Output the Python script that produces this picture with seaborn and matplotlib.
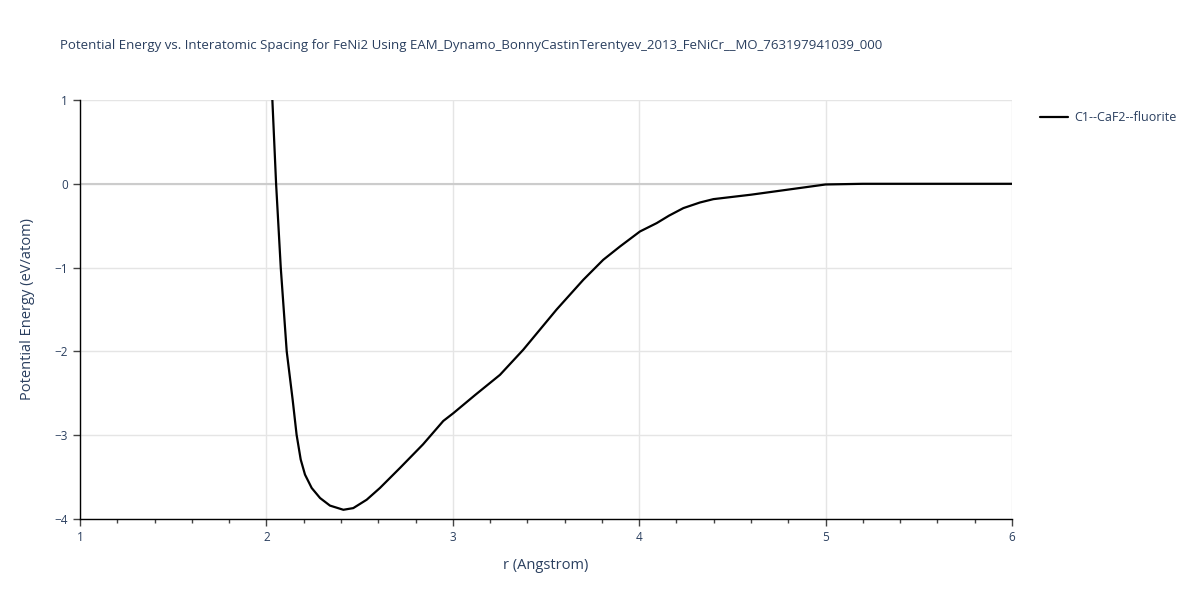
import matplotlib.pyplot as plt
import seaborn as sns
import pandas as pd
from matplotlib.ticker import MultipleLocator

# Values
r_values = [1.99, 2.032, 2.052, 2.077, 2.109, 2.141, 2.162, 2.184, 2.207, 2.243,
            2.288, 2.341, 2.413, 2.466, 2.538, 2.609, 2.717, 2.84, 2.949, 3.003,
            3.12, 3.253, 3.378, 3.557, 3.70, 3.807, 3.897, 4.004, 4.094, 4.16,
            4.237, 4.326, 4.398, 4.6, 4.79, 5.0, 5.2, 5.5, 6.0]
energy_values = [2.0, 1.0, 0.0, -1.0, -2.0, -2.58, -2.995, -3.29, -3.47, -3.63,
                 -3.75, -3.84, -3.89, -3.87, -3.77, -3.63, -3.39, -3.11, -2.83, -2.737,
                 -2.52, -2.28, -1.98, -1.50, -1.146, -0.907, -0.748, -0.569, -0.469, -0.38,
                 -0.29, -0.223, -0.183, -0.13, -0.072, -0.008, 0.0, 0.0, 0.0]
series_name = "C1--CaF2--fluorite"
title = ("Potential Energy vs. Interatomic Spacing for FeNi2 Using "
         "EAM_Dynamo_BonnyCastinTerentyev_2013_FeNiCr__MO_763197941039_000")

df = pd.DataFrame({"r": r_values, "E": energy_values, "Structure": series_name})

sns.set_style("white")
plt.rcParams['font.family'] = ['Open Sans', 'DejaVu Sans']
text_color = "#2a3f5f"

fig = plt.figure(figsize=(12, 6), dpi=100)
ax = fig.add_axes([80 / 1200, 1 - 519 / 600, 932 / 1200, 419 / 600])

sns.lineplot(data=df, x="r", y="E", hue="Structure", palette=["black"],
             linewidth=1.6, ax=ax, sort=False)

ax.set_xlim(1, 6)
ax.set_ylim(-4, 1)

# gridlines like the plotly look
ax.xaxis.set_major_locator(MultipleLocator(1))
ax.xaxis.set_minor_locator(MultipleLocator(0.2))
ax.yaxis.set_major_locator(MultipleLocator(1))
ax.grid(True, which="major", color="#e5e5e5", linewidth=1)
ax.axhline(0, color="#cccccc", linewidth=1.5, zorder=1)
ax.set_axisbelow(True)

for side in ["top", "right"]:
    ax.spines[side].set_visible(False)
ax.spines["left"].set_color("black")
ax.spines["bottom"].set_color("black")
ax.spines["left"].set_linewidth(1)
ax.spines["bottom"].set_linewidth(1)

ax.tick_params(axis="both", which="major", direction="out", length=5, width=1,
               bottom=True, left=True, color="#444444", labelsize=8.5,
               labelcolor=text_color)
ax.tick_params(axis="x", which="minor", direction="out", length=3, width=1,
               bottom=True, color="#444444")
ax.set_xticklabels([str(int(t)) for t in ax.get_xticks()])
ax.set_yticklabels(["\u2212" + str(int(-t)) if t < 0 else str(int(t)) for t in ax.get_yticks()])

ax.set_xlabel("r (Angstrom)", fontsize=10.5, color=text_color, labelpad=10)
ax.set_ylabel("Potential Energy (eV/atom)", fontsize=10.5, color=text_color, labelpad=14)

fig.text(60 / 1200, 1 - 45 / 600, title, fontsize=9.55, color=text_color, va="center")

ax.legend(loc="upper left", bbox_to_anchor=(1.018, 1.0), frameon=False,
          fontsize=9, labelcolor=text_color, handlelength=2.2, handletextpad=0.5)

fig.savefig("out.png", dpi=100)
